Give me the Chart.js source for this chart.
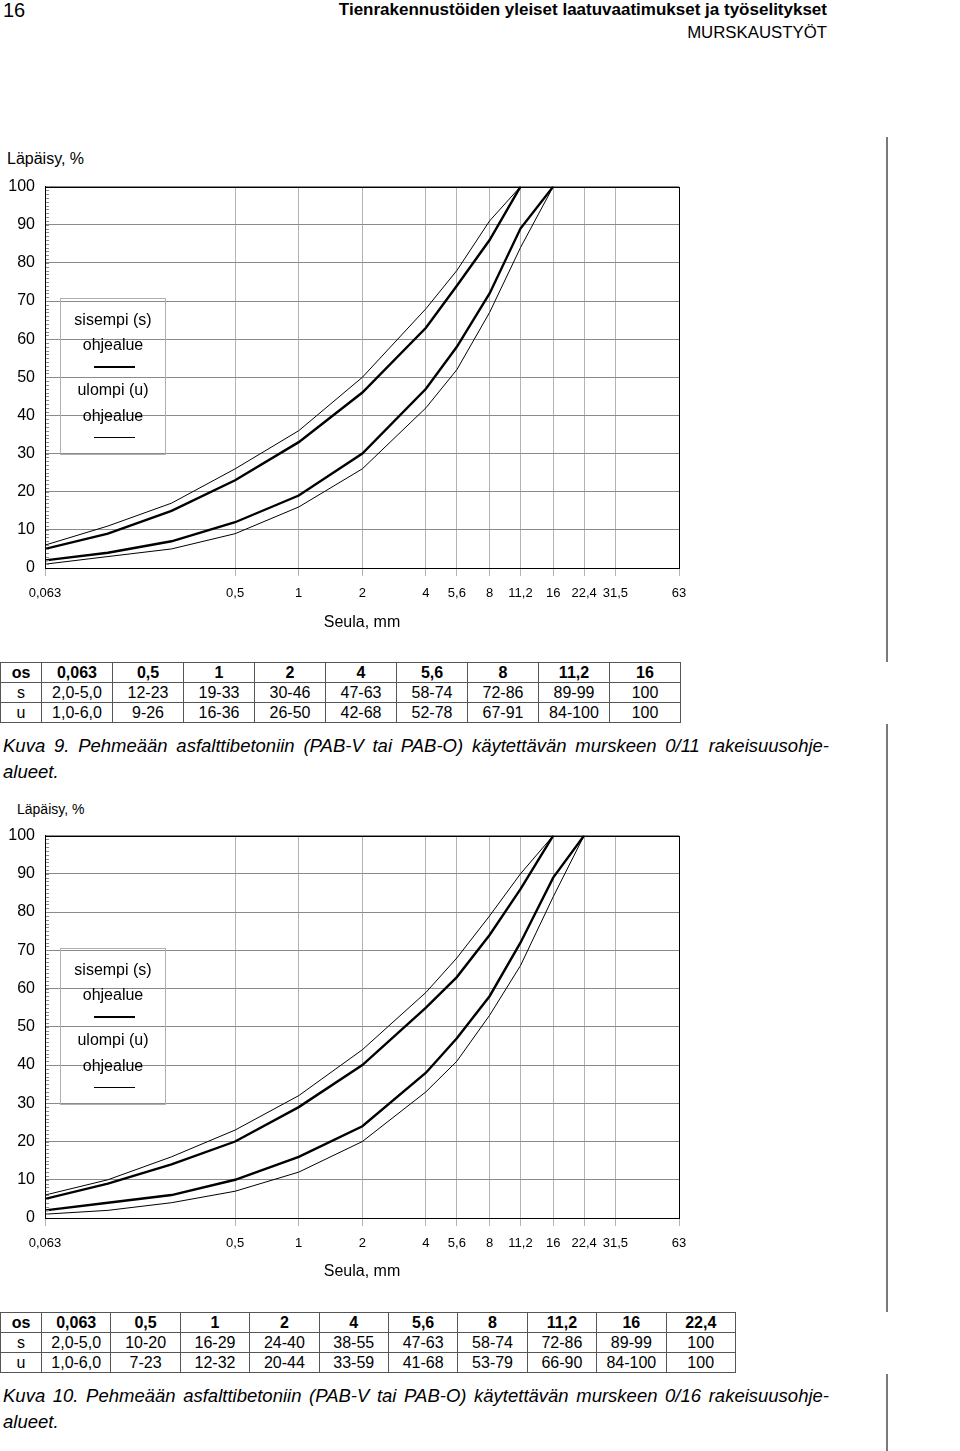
<!DOCTYPE html>
<html lang="fi">
<head>
<meta charset="UTF-8">
<title>Murskaustyöt - rakeisuusohjealueet</title>
<script src="https://cdn.jsdelivr.net/npm/chart.js"></script>
<style>
  body { margin:0; width:960px; height:1451px; position:relative; overflow:hidden; background:#fff;
         font-family:"Liberation Sans", Arial, sans-serif; color:#000; }
  .abs { position:absolute; white-space:nowrap; }
  .vline { position:absolute; left:886px; width:2px; background:#7a7a7a; }
  .ylab { font-size:16px; line-height:20px; }
  .legend { position:absolute; left:60px; width:104px; height:155px; border:1px solid #b0b0b0; }
  .legend div { position:absolute; left:0; width:100%; text-align:center; font-size:16px; line-height:20px; }
  .legend .ln { left:33px; width:41px; background:#000; }
  table { position:absolute; left:0; border-collapse:collapse; table-layout:fixed; font-size:16px; }
  td { border:1px solid #555; text-align:center; padding:0; height:19px; line-height:19px; }
  tr:first-of-type td { font-weight:bold; }
  .cap { position:absolute; left:3px; width:826px; font-style:italic; font-size:18.5px; line-height:26px; }
  .cap .l1 { text-align:justify; text-align-last:justify; }
</style>
</head>
<body>
  <div class="abs" style="left:3px;top:0;font-size:20px;line-height:20px;">16</div>
  <div class="abs" style="right:133px;top:0;font-size:17px;line-height:20px;font-weight:bold;">Tienrakennustöiden yleiset laatuvaatimukset ja työselitykset</div>
  <div class="abs" style="right:133px;top:23px;font-size:16.8px;line-height:20px;">MURSKAUSTYÖT</div>

  <div class="vline" style="top:137px;height:525px;"></div>
  <div class="vline" style="top:724px;height:588px;"></div>
  <div class="vline" style="top:1374px;height:77px;"></div>

  <div class="abs ylab" style="left:7px;top:149px;">Läpäisy, %</div>
  <canvas id="chart11" class="abs" width="700" height="469" style="left:0;top:167px;"></canvas>
  <div class="legend" style="top:298px;">
    <div style="top:11px;">sisempi (s)</div>
    <div style="top:36px;">ohjealue</div>
    <div class="ln" style="top:67px;height:2px;"></div>
    <div style="top:81px;">ulompi (u)</div>
    <div style="top:107px;">ohjealue</div>
    <div class="ln" style="top:138px;height:1px;"></div>
  </div>
  <table id="table11" style="top:662px;"></table>
  <div class="cap" style="top:733px;">
    <div class="l1">Kuva 9. Pehmeään asfalttibetoniin (PAB-V tai PAB-O) käytettävän murskeen 0/11 rakeisuusohje-</div>
    <div>alueet.</div>
  </div>

  <div class="abs" style="left:17px;top:800px;font-size:14px;line-height:18px;">Läpäisy, %</div>
  <canvas id="chart16" class="abs" width="700" height="469" style="left:0;top:816px;"></canvas>
  <div class="legend" style="top:948px;">
    <div style="top:11px;">sisempi (s)</div>
    <div style="top:36px;">ohjealue</div>
    <div class="ln" style="top:67px;height:2px;"></div>
    <div style="top:81px;">ulompi (u)</div>
    <div style="top:107px;">ohjealue</div>
    <div class="ln" style="top:138px;height:1px;"></div>
  </div>
  <table id="table16" style="top:1312px;"></table>
  <div class="cap" style="top:1383px;">
    <div class="l1">Kuva 10. Pehmeään asfalttibetoniin (PAB-V tai PAB-O) käytettävän murskeen 0/16 rakeisuusohje-</div>
    <div>alueet.</div>
  </div>

<script>
// sieve sizes shown on the x axis (mm)
const xTicks = [0.063, 0.5, 1, 2, 4, 5.6, 8, 11.2, 16, 22.4, 31.5, 63];

// 0/11 crushed aggregate, passing %
const sieves11 = [0.063, 0.125, 0.25, 0.5, 1, 2, 4, 5.6, 8, 11.2, 16];
const s11Upper = [5, 9, 15, 23, 33, 46, 63, 74, 86, 100];
const s11Lower = [2, 4, 7, 12, 19, 30, 47, 58, 72, 89, 100];
const u11Upper = [6, 11, 17, 26, 36, 50, 68, 78, 91, 100];
const u11Lower = [1, 3, 5, 9, 16, 26, 42, 52, 67, 84, 100];

// 0/16 crushed aggregate, passing %
const sieves16 = [0.063, 0.125, 0.25, 0.5, 1, 2, 4, 5.6, 8, 11.2, 16, 22.4];
const s16Upper = [5, 9, 14, 20, 29, 40, 55, 63, 74, 86, 100];
const s16Lower = [2, 4, 6, 10, 16, 24, 38, 47, 58, 72, 89, 100];
const u16Upper = [6, 10, 16, 23, 32, 44, 59, 68, 79, 90, 100];
const u16Lower = [1, 2, 4, 7, 12, 20, 33, 41, 53, 66, 84, 100];

// tables under the charts
const table11Head = ['os', '0,063', '0,5', '1', '2', '4', '5,6', '8', '11,2', '16'];
const table11S = ['s', '2,0-5,0', '12-23', '19-33', '30-46', '47-63', '58-74', '72-86', '89-99', '100'];
const table11U = ['u', '1,0-6,0', '9-26', '16-36', '26-50', '42-68', '52-78', '67-91', '84-100', '100'];
const table16Head = ['os', '0,063', '0,5', '1', '2', '4', '5,6', '8', '11,2', '16', '22,4'];
const table16S = ['s', '2,0-5,0', '10-20', '16-29', '24-40', '38-55', '47-63', '58-74', '72-86', '89-99', '100'];
const table16U = ['u', '1,0-6,0', '7-23', '12-32', '20-44', '33-59', '41-68', '53-79', '66-90', '84-100', '100'];

const FONT = '"Liberation Sans", Arial, sans-serif';

function pts(sieves, vals) {
  return vals.map((v, i) => ({ x: sieves[i], y: v }));
}

// minor ticks on the y axis + black frame round the plot
const frameTicks = {
  id: 'frameTicks',
  afterDraw(chart) {
    const { ctx, chartArea: a } = chart;
    const y = chart.scales.y;
    ctx.save();
    ctx.strokeStyle = '#8a8a8a';
    ctx.lineWidth = 1;
    ctx.beginPath();
    for (let v = 1; v < 100; v++) {
      const py = Math.round(y.getPixelForValue(v)) + 0.5;
      ctx.moveTo(a.left, py);
      ctx.lineTo(a.left + 4, py);
    }
    ctx.stroke();
    ctx.strokeStyle = '#000';
    ctx.strokeRect(Math.round(a.left) + 0.5, Math.round(a.top) + 0.5,
                   Math.round(a.right - a.left), Math.round(a.bottom - a.top));
    ctx.restore();
  }
};

function makeChart(id, sieves, sU, sL, uU, uL, axisH) {
  const thick = { borderColor: '#000', borderWidth: 2.4, pointRadius: 0, tension: 0 };
  const thin = { borderColor: '#000', borderWidth: 1, pointRadius: 0, tension: 0 };
  return new Chart(document.getElementById(id), {
    type: 'line',
    data: {
      datasets: [
        { label: 'u ylä', data: pts(sieves, uU), ...thin },
        { label: 'u ala', data: pts(sieves, uL), ...thin },
        { label: 's ylä', data: pts(sieves, sU), ...thick },
        { label: 's ala', data: pts(sieves, sL), ...thick }
      ]
    },
    options: {
      responsive: false,
      animation: false,
      layout: { padding: { top: 10, right: 21, left: 0, bottom: 0 } },
      plugins: { legend: { display: false }, tooltip: { enabled: false } },
      scales: {
        x: {
          type: 'logarithmic',
          min: 0.063,
          max: 63,
          afterBuildTicks: ax => { ax.ticks = xTicks.map(v => ({ value: v })); },
          afterFit: ax => { ax.height = axisH; },
          ticks: {
            autoSkip: false, maxRotation: 0, padding: 10, color: '#000',
            font: { size: 13, family: FONT },
            callback: v => String(v).replace('.', ',')
          },
          grid: { color: '#b4b4b4', tickColor: '#b4b4b4', tickLength: 8 },
          border: { color: '#000' },
          title: { display: true, text: 'Seula, mm', color: '#000',
                   font: { size: 16, family: FONT }, padding: { top: 4, bottom: 4 } }
        },
        y: {
          min: 0,
          max: 100,
          afterFit: ax => { ax.width = 45; },
          ticks: { stepSize: 10, padding: 10, color: '#000', font: { size: 16, family: FONT } },
          grid: { color: '#8a8a8a', drawTicks: false },
          border: { color: '#000' }
        }
      }
    },
    plugins: [frameTicks]
  });
}

function fillTable(id, rows, widths) {
  const t = document.getElementById(id);
  const cg = document.createElement('colgroup');
  widths.forEach(w => {
    const c = document.createElement('col');
    c.style.width = w + 'px';
    cg.appendChild(c);
  });
  t.appendChild(cg);
  rows.forEach(r => {
    const tr = document.createElement('tr');
    r.forEach(txt => {
      const td = document.createElement('td');
      td.textContent = txt;
      tr.appendChild(td);
    });
    t.appendChild(tr);
  });
}

makeChart('chart11', sieves11, s11Upper, s11Lower, u11Upper, u11Lower, 68);
makeChart('chart16', sieves16, s16Upper, s16Lower, u16Upper, u16Lower, 67);

fillTable('table11', [table11Head, table11S, table11U], [41].concat(Array(9).fill(71)));
fillTable('table16', [table16Head, table16S, table16U], [41].concat(Array(10).fill(69.4)));
</script>
</body>
</html>
